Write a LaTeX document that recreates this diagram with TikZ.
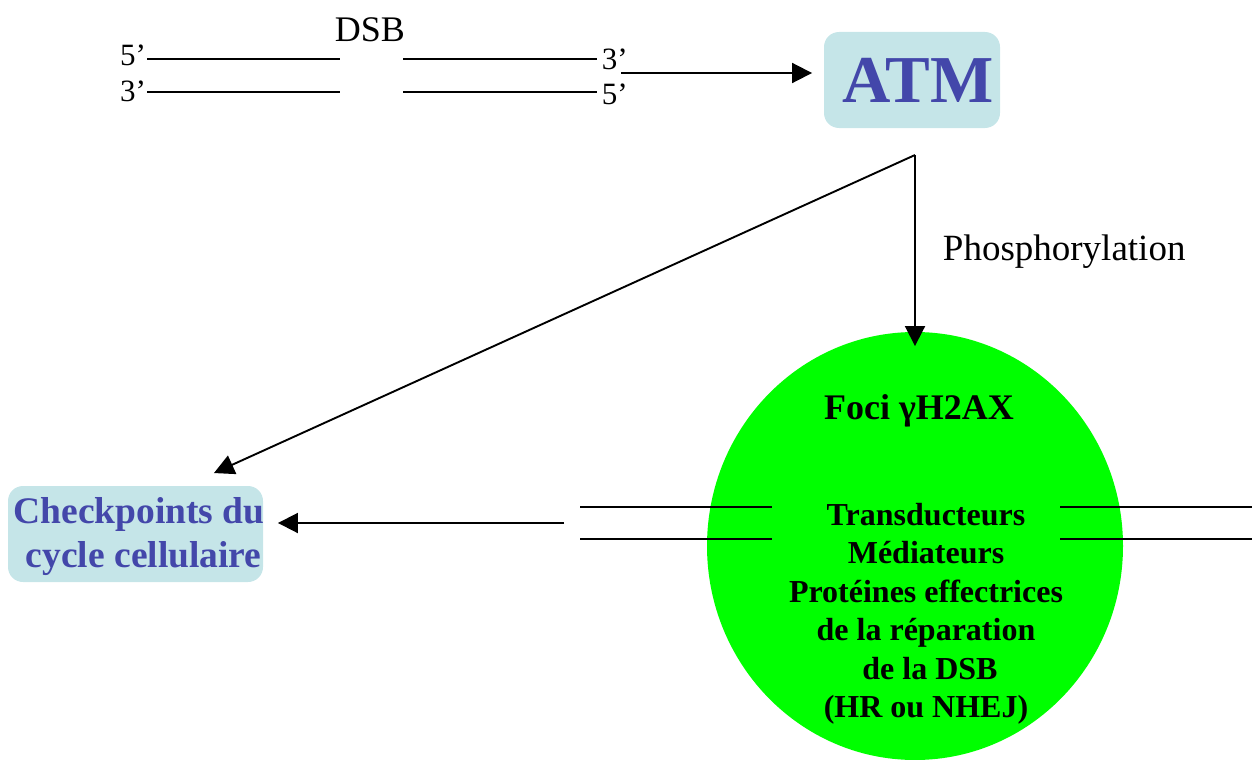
\documentclass[tikz,border=0pt]{standalone}
\usepackage{fontspec}
\setmainfont{Liberation Serif}
\usetikzlibrary{arrows.meta,shapes.geometric}
\definecolor{boxblue}{HTML}{C5E5E8}
\definecolor{txtblue}{HTML}{4347AA}
\definecolor{focgreen}{HTML}{00FF00}
\begin{document}
\begin{tikzpicture}[x=1pt,y=-1pt,line width=1.9pt,
  arr/.style={-{Triangle[length=20pt,width=20pt]}},
  strand/.style={line width=2pt},
  endlbl/.style={font=\fontsize{31}{31}\selectfont,inner sep=0pt},
  bluebox/.style={fill=boxblue,draw=none,rounded corners=15pt,inner sep=0pt},
  plain/.style={inner sep=0pt}]
\useasboundingbox (0,0) rectangle (1253,760);

% DSB strands
\node[plain,anchor=base,font=\fontsize{36}{36}\selectfont] (dsb) at (370,42) {DSB};
\coordinate (a1) at (147,59); \coordinate (a2) at (340,59);
\coordinate (a3) at (403,59); \coordinate (a4) at (597,59);
\coordinate (b1) at (147,92); \coordinate (b2) at (340,92);
\coordinate (b3) at (403,92); \coordinate (b4) at (597,92);
\draw[strand] (a1) -- (a2); \draw[strand] (a3) -- (a4);
\draw[strand] (b1) -- (b2); \draw[strand] (b3) -- (b4);
\node[endlbl,anchor=base east] (l5) at (147,66) {5’};
\node[endlbl,anchor=base east] (l3) at (147,101) {3’};
\node[endlbl,anchor=base west] (r3) at (601,70) {3’};
\node[endlbl,anchor=base west] (r5) at (601,104) {5’};

% ATM
\node[bluebox,minimum width=176pt,minimum height=96pt] (atm) at (912,80) {};
\node[plain,text=txtblue,font=\bfseries\fontsize{67}{67}\selectfont] (atmtxt) at (918,80) {ATM};
\coordinate (s3) at (621,73);
\draw[arr] (s3) -- ([xshift=-11pt]s3 -| atm.west);

% Checkpoints
\node[bluebox,minimum width=255pt,minimum height=96pt] (chk) at (135.5,534) {};
\node[plain,align=center,text=txtblue,font=\bfseries\fontsize{37.5}{44}\selectfont]
  (chktxt) at (139,537) {Checkpoints du\\\ cycle cellulaire};

% Foci circle
\node[ellipse,fill=focgreen,draw=none,minimum width=416pt,minimum height=428pt] (circ) at (915,546) {};
\node[plain,font=\bfseries\fontsize{36}{36}\selectfont] (foci) at (919,411) {Foci γH2AX};
\node[plain,align=center,font=\bfseries\fontsize{32}{38.5}\selectfont] (list) at (926,614)
  {Transducteurs\\Médiateurs\\Protéines effectrices\\de la réparation\\\ de la DSB\\(HR ou NHEJ)};

% broken strands through the focus
\coordinate (c1) at (580,507); \coordinate (c2) at (772,507);
\coordinate (c3) at (580,539); \coordinate (c4) at (772,539);
\coordinate (d1) at (1060,507); \coordinate (d2) at (1252,507);
\coordinate (d3) at (1060,539); \coordinate (d4) at (1252,539);
\draw[strand] (c1) -- (c2); \draw[strand] (c3) -- (c4);
\draw[strand] (d1) -- (d2); \draw[strand] (d3) -- (d4);

% ATM signalling arrows
\coordinate (corner) at (915,155);
\draw[arr] (corner) -- ([yshift=-15pt]circ.north);
\draw[arr] (corner) -- ([xshift=-50pt,yshift=12pt]chk.north east);
\node[plain,anchor=base west,font=\fontsize{37}{37}\selectfont] (phos) at (942,260) {Phosphorylation};

\coordinate (la) at (564,523);
\draw[arr] (la) -- ([xshift=14pt]la -| chk.east);
\end{tikzpicture}
\end{document}
